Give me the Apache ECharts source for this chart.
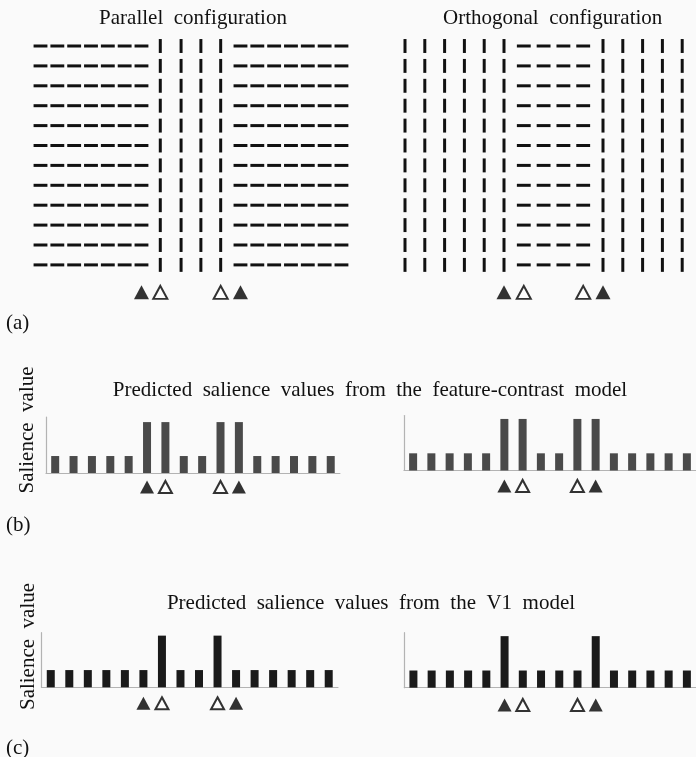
<!DOCTYPE html>
<html><head><meta charset="utf-8">
<script src="https://cdn.jsdelivr.net/npm/echarts@6/dist/echarts.min.js"></script>
<style>html,body{margin:0;padding:0;background:#fafafa}#c{width:696px;height:757px}</style>
</head><body><div id="c"></div>
<script>
// ---------- data ----------
const panelTitles = ['Parallel  configuration', 'Orthogonal  configuration'];
const barTitles = ['Predicted  salience  values  from  the  feature-contrast  model',
                   'Predicted  salience  values  from  the  V1  model'];
const yAxisName = 'Salience  value';
const panelLabels = ['(a)', '(b)', '(c)'];

// stimulus (a): orientation of each column and its position (in element-spacing units)
const parallelOrient = ['h','h','h','h','h','h','h','v','v','v','v','h','h','h','h','h','h','h'];
const parallelPos    = [0, 0.85, 1.7, 2.55, 3.4, 4.25, 5.1, 6.05, 7.1, 8.1, 9.1, 10.1, 10.95, 11.8, 12.65, 13.5, 14.35, 15.2];
const orthoOrient    = ['v','v','v','v','v','v','h','h','h','h','v','v','v','v','v'];
const orthoPos       = [0, 1, 2, 3, 4, 5, 6, 7, 8, 9, 10, 11, 12, 13, 14];
const stimulusRows   = [0, 1, 2, 3, 4, 5, 6, 7, 8, 9, 10, 11];
// border markers: [column index, kind]
const parallelMarks  = [[6, 'filled'], [7, 'open'], [10, 'open'], [11, 'filled']];
const orthoMarks     = [[5, 'filled'], [6, 'open'], [9, 'open'], [10, 'filled']];

// salience bars (b), (c)
const barCategories    = ['1','2','3','4','5','6','7','8','9','10','11','12','13','14','15','16'];
const featureParallel  = [1, 1, 1, 1, 1, 3, 3, 1, 1, 3, 3, 1, 1, 1, 1, 1];
const featureOrtho     = [1, 1, 1, 1, 1, 3, 3, 1, 1, 3, 3, 1, 1, 1, 1, 1];
const v1Parallel       = [1, 1, 1, 1, 1, 1, 3, 1, 1, 3, 1, 1, 1, 1, 1, 1];
const v1Ortho          = [1, 1, 1, 1, 1, 3, 1, 1, 1, 1, 3, 1, 1, 1, 1, 1];
const barMarks         = [[5, 'filled'], [6, 'open'], [9, 'open'], [10, 'filled']];

// ---------- build ----------
const FONT = '"Liberation Serif", "Times New Roman", serif';
const markRow = 12.38;
const elemLen = 0.7;

function stimulusData(orient, pos) {
  const d = [];
  orient.forEach((o, c) => stimulusRows.forEach(r => d.push([pos[c], r, o === 'h' ? 0 : 1])));
  return d;
}
function renderElement(params, api) {
  const p = api.coord([api.value(0), api.value(1)]);
  const s = api.size([elemLen, elemLen]);
  const horiz = api.value(2) === 0;
  const shape = horiz
    ? {x1: p[0] - s[0] / 2, y1: p[1], x2: p[0] + s[0] / 2, y2: p[1]}
    : {x1: p[0], y1: p[1] - s[1] / 2, x2: p[0], y2: p[1] + s[1] / 2};
  return {type: 'line', shape, style: {stroke: '#111', lineWidth: 3, lineCap: 'butt'}};
}
function markSeries(marks, xFn, y, xi, yi, size) {
  const filled = marks.filter(m => m[1] === 'filled').map(m => [xFn(m[0]), y]);
  const open = marks.filter(m => m[1] === 'open').map(m => [xFn(m[0]), y]);
  return [
    {type: 'scatter', xAxisIndex: xi, yAxisIndex: yi, data: filled, symbol: 'triangle',
     symbolSize: size, itemStyle: {color: '#000', borderWidth: 0}, silent: true},
    {type: 'scatter', xAxisIndex: xi, yAxisIndex: yi, data: open, symbol: 'emptyTriangle',
     symbolSize: [size[0] - 1, size[1] - 1], itemStyle: {color: '#000', borderColor: '#000', borderWidth: 1.8}, silent: true}
  ];
}

const grids = [], xAxes = [], yAxes = [], series = [];
const hidden = {show: false};

// (a) stimulus grids
const stimGrids = [
  {left: 20.7, width: 17.25 * 19.8, min: -1, max: 16.25, orient: parallelOrient, pos: parallelPos, marks: parallelMarks},
  {left: 385.2, width: 15.5 * 19.8, min: -1, max: 14.5, orient: orthoOrient, pos: orthoPos, marks: orthoMarks}
];
stimGrids.forEach(g => {
  const i = grids.length;
  grids.push({left: g.left, width: g.width, top: 26.1, height: 14 * 19.9});
  xAxes.push({type: 'value', gridIndex: i, min: g.min, max: g.max, show: false});
  yAxes.push({type: 'value', gridIndex: i, min: -1, max: 13, inverse: true, show: false});
  series.push({type: 'custom', xAxisIndex: i, yAxisIndex: i, renderItem: renderElement,
               data: stimulusData(g.orient, g.pos), silent: true});
  series.push(...markSeries(g.marks, c => g.pos[c], markRow, i, i, [15, 14]));
});

// (b), (c) bar grids
const barGrids = [
  {left: 46, width: 16 * 18.37, top: 417, height: 56, max: 3.3, data: featureParallel, color: '#4a4a4a', markTop: 477},
  {left: 404, width: 16 * 18.4, top: 415.5, height: 55, max: 3.2, data: featureOrtho, color: '#4a4a4a', markTop: 476},
  {left: 41.5, width: 16 * 18.53, top: 632.7, height: 54.6, max: 3.17, data: v1Parallel, color: '#1a1a1a', markTop: 693.3},
  {left: 404.3, width: 16 * 18.41, top: 632.7, height: 55, max: 3.2, data: v1Ortho, color: '#1a1a1a', markTop: 695}
];
const axisLineStyle = {show: true, lineStyle: {color: '#b3b3b3', width: 1.2}};
barGrids.forEach(g => {
  const i = grids.length;
  grids.push({left: g.left, width: g.width, top: g.top, height: g.height});
  xAxes.push({type: 'category', gridIndex: i, data: barCategories, axisLine: axisLineStyle,
              axisTick: hidden, axisLabel: hidden, splitLine: hidden});
  yAxes.push({type: 'value', gridIndex: i, min: 0, max: g.max, axisLine: axisLineStyle,
              axisTick: hidden, axisLabel: hidden, splitLine: hidden});
  series.push({type: 'bar', xAxisIndex: i, yAxisIndex: i, data: g.data, barWidth: 8,
               itemStyle: {color: g.color}, silent: true});
  const j = grids.length;
  grids.push({left: g.left, width: g.width, top: g.markTop, height: 20});
  xAxes.push({type: 'category', gridIndex: j, data: barCategories, show: false});
  yAxes.push({type: 'value', gridIndex: j, min: 0, max: 1, show: false});
  series.push(...markSeries(barMarks, c => c, 0.5, j, j, [14, 13]));
});

function txt(text, x, y, opts) {
  return Object.assign({type: 'text', x, y, silent: true,
    style: Object.assign({text, font: '21px ' + FONT, fill: '#111', align: 'center', verticalAlign: 'middle'}, (opts || {}).style || {})},
    (opts || {}).el || {});
}
const graphics = [
  txt(panelTitles[0], 193, 18),
  txt(panelTitles[1], 552.7, 18),
  txt(panelLabels[0], 6, 323, {style: {align: 'left'}}),
  txt(barTitles[0], 370, 390),
  txt(yAxisName, 27.5, 430, {el: {rotation: Math.PI / 2}}),
  txt(panelLabels[1], 6, 525, {style: {align: 'left'}}),
  txt(barTitles[1], 371, 603),
  txt(yAxisName, 28, 646.5, {el: {rotation: Math.PI / 2}}),
  txt(panelLabels[2], 6, 748, {style: {align: 'left'}})
];

const chart = echarts.init(document.getElementById('c'), null, {renderer: 'canvas'});
chart.setOption({
  backgroundColor: '#fafafa',
  animation: false,
  grid: grids, xAxis: xAxes, yAxis: yAxes, series,
  graphic: graphics
});
</script></body></html>
